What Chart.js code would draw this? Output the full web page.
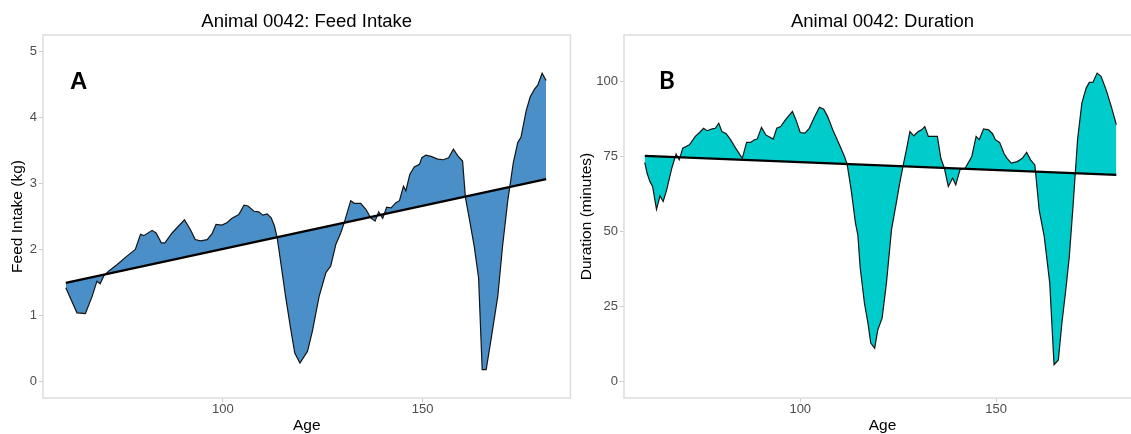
<!DOCTYPE html>
<html><head><meta charset="utf-8">
<script src="https://cdn.jsdelivr.net/npm/chart.js@4.4.1/dist/chart.umd.min.js"></script>
<style>
html,body{margin:0;padding:0;background:#fff;overflow:hidden;width:1131px;height:434px;}
#wrap{position:relative;width:1131px;height:434px;overflow:hidden;background:#fff;}
canvas{position:absolute;top:0;}
#cA{left:0;}
#cB{left:570px;}
</style></head>
<body><div id="wrap"><canvas id="cA" width="575" height="434"></canvas><canvas id="cB" width="576" height="434"></canvas></div>
<script>
// ---- Panel A: Feed intake ----
const ageA = [60.7,63.5,65.6,67.3,68.5,69.3,70.2,71.4,73.5,76,78.1,79.4,80.2,82.3,83.3,84.6,85.5,87.3,89,90.4,91.9,93.1,94.4,96.1,97.3,98.3,99.8,101.1,102.2,104,105.3,106.3,107.8,109,110,111.1,112.1,112.9,113.6,114.5,115.7,117,118,119.3,121.2,122.4,124.1,125.8,127,128.3,129.5,130.4,132,132.9,134.5,135.8,137,138.1,139,140,141,142.1,143.3,144.2,145.2,145.8,146.8,147.9,149.2,149.8,150.8,152.1,153.8,155.2,156.5,157.7,158.8,160,160.7,161.7,162.9,164,164.9,165.9,167.1,168.8,170,171.3,172.7,173.8,174.6,175.9,176.9,178,178.8,179.9,180.9];
const feedA = [1.42,1.04,1.03,1.29,1.52,1.48,1.6,1.67,1.77,1.9,2.0,2.23,2.21,2.29,2.25,2.1,2.1,2.25,2.36,2.45,2.3,2.15,2.13,2.15,2.24,2.38,2.37,2.41,2.47,2.53,2.67,2.66,2.58,2.57,2.52,2.54,2.48,2.36,2.18,1.8,1.29,0.79,0.43,0.28,0.46,0.76,1.29,1.65,1.75,2.08,2.25,2.41,2.74,2.7,2.7,2.61,2.48,2.43,2.57,2.47,2.64,2.63,2.71,2.74,2.96,2.89,3.14,3.25,3.29,3.39,3.43,3.41,3.37,3.36,3.39,3.52,3.42,3.34,2.79,2.46,2.05,1.57,0.18,0.18,0.63,1.29,2.05,2.74,3.32,3.62,3.7,4.1,4.31,4.43,4.49,4.67,4.56];
const trendAgeA = [60.7,180.9];
const trendFeedA = [1.495,3.065];
const yTicksA = [0,1,2,3,4,5];

// ---- Panel B: Duration ----
const ageB = [60.3,60.9,61.6,62.3,63.3,64.2,65,65.9,67.2,68.3,69.1,70,71.7,73.2,74.3,75.3,76.2,77.5,78.3,79.2,80,81.1,82.2,83.5,85.2,86.3,87.3,88.3,89,90.1,91.2,93.1,94,95,96.3,98,98.9,100,101.2,102.3,103.6,104.9,106,107,108.3,110,111.3,112,113,114.1,114.7,115.3,116.4,117.3,118,119,119.8,120.9,122,123.3,124.5,125.4,126.3,127.1,128,129,130.1,131,131.8,132.7,134,135,135.9,136.8,137.8,138.9,139.7,140.8,142.1,143.8,144.9,145.7,146.8,148.1,149.1,149.8,150.9,152,152.8,153.9,155.4,156.7,157.8,158.8,159.9,161,162.3,163.7,164.8,165.9,166.8,167.8,168.7,169.7,170.8,171.9,173,173.8,174.7,175.8,176.8,178.1,179.4,180.7];
const durB = [73,69.4,66.7,65,57.4,61.9,60,63.9,71.1,75.8,73.9,77.8,78.9,81.7,83,84.4,83.6,84.2,84.4,86.1,83.3,82.6,80.6,77.8,74.4,79.7,79.7,80.6,80.8,84.7,82.2,80.8,84.4,85,87.4,90,87.2,83,82.8,84.4,88.1,91.4,90.8,88.3,83.9,78.9,75,72.2,63.9,52.8,48.9,38,26,19.4,12.8,11.1,17.2,21.1,32.8,50.6,59.4,66.1,72.2,77.2,83.3,81.9,83.3,83.9,85,81.7,81.7,81.7,74.4,71.1,65,67.8,65.6,70.6,71.1,75,81.7,80.6,84.2,83.9,82.6,80.6,79.7,76.1,74.4,72.8,73.3,74.4,76.4,73.9,72.2,57.2,48.3,32.8,5.6,7.2,19.4,30.6,41.7,59.4,80.6,92.8,97.8,99.7,99.7,102.8,101.7,97.2,91.7,85.6];
const trendAgeB = [60.3,180.7];
const trendDurB = [75.2,68.9];
const yTicksB = [0,25,50,75,100];

const xTicks = [100,150];

Chart.defaults.font.family = "'Liberation Sans', Arial, Helvetica, sans-serif";

const decor = {
  id: 'decor',
  afterDraw(chart, args, o) {
    const {ctx, chartArea: a} = chart;
    ctx.save();
    ctx.strokeStyle = '#dddddd';
    ctx.lineWidth = 1.5;
    ctx.strokeRect(a.left, a.top, a.right - a.left, a.bottom - a.top);
    ctx.fillStyle = '#000';
    ctx.font = "18.5px 'Liberation Sans', Arial, sans-serif";
    ctx.textAlign = 'center';
    ctx.textBaseline = 'alphabetic';
    ctx.fillText(o.title, (a.left + a.right) / 2, 27);
    ctx.font = o.letterFont;
    ctx.textAlign = 'left';
    ctx.fillText(o.letter, a.left + o.letterDx, 89);
    ctx.restore();
  }
};

function pts(xs, ys) { return xs.map((x, i) => ({x: x, y: ys[i]})); }

function makeChart(id, c) {
  return new Chart(document.getElementById(id), {
    type: 'line',
    data: {
      datasets: [
        {data: pts(c.ages, c.vals), borderColor: '#151515', borderWidth: 1.2, backgroundColor: c.fill,
         fill: 1, pointRadius: 0, tension: 0, order: 2},
        {data: pts(c.tAges, c.tVals), borderColor: '#000', borderWidth: 2.3, pointRadius: 0,
         fill: false, tension: 0, order: 1}
      ]
    },
    options: {
      responsive: false, animation: false, devicePixelRatio: 1,
      layout: {padding: {top: 35, right: c.padRight, left: 0, bottom: 0}},
      plugins: {
        legend: {display: false}, tooltip: {enabled: false},
        decor: {title: c.title, letter: c.letter, letterFont: c.letterFont, letterDx: c.letterDx}
      },
      scales: {
        x: {
          type: 'linear', min: 55, max: 187,
          afterFit(s) { s.height = 36; },
          afterBuildTicks(s) { s.ticks = xTicks.map(v => ({value: v})); },
          grid: {drawOnChartArea: false, drawTicks: true, tickLength: 4, color: '#cccccc', lineWidth: 1},
          border: {display: false},
          ticks: {color: '#4d4d4d', font: {size: 13}, padding: 0, maxRotation: 0},
          title: {display: true, text: 'Age', color: '#000', font: {size: 15.5}, padding: {top: 0, bottom: -1.5}}
        },
        y: {
          type: 'linear', min: c.ymin, max: c.ymax,
          afterFit(s) { s.width = c.yWidth; },
          afterBuildTicks(s) { s.ticks = c.yTicks.map(v => ({value: v})); },
          grid: {drawOnChartArea: false, drawTicks: true, tickLength: 4, color: '#cccccc', lineWidth: 1},
          border: {display: false},
          ticks: {color: '#4d4d4d', font: {size: 13}, padding: 2},
          title: {display: true, text: c.yTitle, color: '#000', font: {size: 15.5}, padding: {top: c.yTitlePad, bottom: 0}}
        }
      }
    },
    plugins: [decor]
  });
}

makeChart('cA', {
  ages: ageA, vals: feedA, tAges: trendAgeA, tVals: trendFeedA, fill: '#4a8fc8',
  ymin: -0.25, ymax: 5.25, yTicks: yTicksA, yWidth: 43, padRight: 4.5,
  yTitle: 'Feed Intake (kg)', yTitlePad: 8,
  title: 'Animal 0042: Feed Intake', letter: 'A',
  letterFont: "bold 24px 'Liberation Sans', Arial, sans-serif", letterDx: 27
});

makeChart('cB', {
  ages: ageB, vals: durB, tAges: trendAgeB, tVals: trendDurB, fill: '#00cccc',
  ymin: -5.5, ymax: 115.5, yTicks: yTicksB, yWidth: 54, padRight: 5,
  yTitle: 'Duration (minutes)', yTitlePad: 7.5,
  title: 'Animal 0042: Duration', letter: 'B',
  letterFont: "bold 24px Lato, 'Open Sans', sans-serif", letterDx: 35
});
</script>
</body></html>
